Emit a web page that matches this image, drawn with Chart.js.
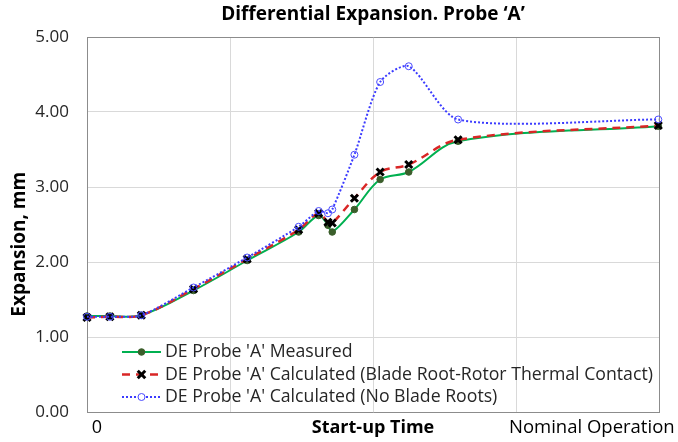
<!DOCTYPE html>
<html>
<head>
<meta charset="utf-8">
<script src="https://cdn.jsdelivr.net/npm/chart.js"></script>
<style>
  html, body { margin: 0; padding: 0; background: #fff; }
  #wrap { width: 678px; height: 442px; }
</style>
</head>
<body>
<div id="wrap"><canvas id="deChart"></canvas></div>
<script>
// ---- Data ----
const timePoints   = [0, 0.16, 0.38, 0.745, 1.12, 1.48, 1.62, 1.685, 1.715, 1.87, 2.05, 2.25, 2.595, 3.995];
const measured     = [1.28, 1.28, 1.29, 1.62, 2.02, 2.40, 2.62, 2.49, 2.40, 2.70, 3.10, 3.20, 3.61, 3.81];
const calcContact  = [1.26, 1.27, 1.29, 1.64, 2.04, 2.43, 2.65, 2.53, 2.52, 2.85, 3.20, 3.30, 3.63, 3.82];
const calcNoRoots  = [1.27, 1.27, 1.29, 1.66, 2.06, 2.47, 2.68, 2.65, 2.70, 3.43, 4.40, 4.61, 3.90, 3.90];

const seriesNames = [
    "DE Probe 'A' Measured",
    "DE Probe 'A' Calculated (Blade Root-Rotor Thermal Contact)",
    "DE Probe 'A' Calculated (No Blade Roots)"
];

// x-axis text positions and labels
const xTickValues = [0, 0.07, 1, 2, 3, 3.53, 4];
const xTickLabels = { 0.07: "0", 2: "Start-up Time", 3.53: "Nominal Operation" };

const FONT = "'Open Sans', 'Noto Sans', sans-serif";

const toXY = ys => ys.map((y, i) => ({ x: timePoints[i], y: y }));

// ---- Legend drawn inside the plot, Excel style (line + marker) ----
const insideLegend = {
    id: "insideLegend",
    afterDraw(chart) {
        const { ctx, chartArea } = chart;
        const x0 = chartArea.left + 35;
        const x1 = x0 + 39;
        const cx = (x0 + x1) / 2;
        let y = chartArea.bottom - 60;
        chart.data.datasets.forEach(ds => {
            ctx.save();
            ctx.strokeStyle = ds.borderColor;
            ctx.lineWidth = ds.borderWidth;
            ctx.setLineDash(ds.borderDash || []);
            ctx.beginPath();
            ctx.moveTo(x0, y);
            ctx.lineTo(x1, y);
            ctx.stroke();
            ctx.restore();

            // marker
            ctx.save();
            ctx.strokeStyle = ds.pointBorderColor;
            ctx.lineWidth = ds.pointBorderWidth;
            ctx.beginPath();
            if (ds.pointStyle === "circle") {
                ctx.arc(cx, y, ds.pointRadius, 0, Math.PI * 2);
                ctx.fillStyle = ds.pointBackgroundColor === "transparent" ? "#fff" : ds.pointBackgroundColor;
                ctx.fill();
                ctx.stroke();
            } else {
                const r = ds.pointRadius * 0.75;
                ctx.moveTo(cx - r, y - r); ctx.lineTo(cx + r, y + r);
                ctx.moveTo(cx + r, y - r); ctx.lineTo(cx - r, y + r);
                ctx.stroke();
            }
            ctx.restore();

            ctx.save();
            ctx.font = "17.7px " + FONT;
            ctx.fillStyle = "#262626";
            ctx.textBaseline = "middle";
            ctx.fillText(ds.label, x1 + 4, y);
            ctx.restore();
            y += 22.5;
        });
    }
};

new Chart(document.getElementById("deChart"), {
    type: "line",
    data: {
        datasets: [{
            label: seriesNames[0],
            data: toXY(measured),
            borderColor: "#00B050",
            borderWidth: 2,
            pointStyle: "circle",
            pointRadius: 3.3,
            pointBorderWidth: 1,
            pointBackgroundColor: "#3B5E2B",
            pointBorderColor: "#3B5E2B",
            tension: 0.35,
            clip: false,
            order: 2
        }, {
            label: seriesNames[1],
            data: toXY(calcContact),
            borderColor: "#D92626",
            borderWidth: 2.5,
            borderDash: [8, 6],
            pointStyle: "crossRot",
            pointRadius: 5,
            pointBorderWidth: 3,
            pointBackgroundColor: "#000",
            pointBorderColor: "#000",
            tension: 0.35,
            clip: false,
            order: 1
        }, {
            label: seriesNames[2],
            data: toXY(calcNoRoots),
            borderColor: "#3B3BFF",
            borderWidth: 2,
            borderDash: [2, 2],
            pointStyle: "circle",
            pointRadius: 3.5,
            pointBorderWidth: 1,
            pointBackgroundColor: "transparent",
            pointBorderColor: "#4A4AFF",
            tension: 0.25,
            clip: false,
            order: 0
        }]
    },
    options: {
        responsive: true,
        maintainAspectRatio: false,
        animation: false,
        layout: { padding: { left: 0, right: 19, top: 0, bottom: 0 } },
        plugins: {
            legend: { display: false },
            tooltip: { enabled: false },
            title: {
                display: true,
                fullSize: false,
                text: "Differential Expansion. Probe \u2018A\u2019",
                color: "#000",
                font: { family: FONT, size: 19, weight: "bold" },
                padding: { top: 3, bottom: 11.2 }
            }
        },
        scales: {
            x: {
                type: "linear",
                min: 0,
                max: 4,
                afterBuildTicks: scale => { scale.ticks = xTickValues.map(v => ({ value: v })); },
                afterFit: scale => { scale.height = 30; },
                grid: {
                    drawTicks: false,
                    color: c => {
                        const v = c.tick.value;
                        if (v === 0.07 || v === 3.53) return "rgba(0,0,0,0)";
                        if (v === 4) return "#8C8C8C";
                        return "#D9D9D9";
                    }
                },
                border: { color: "#8C8C8C" },
                ticks: {
                    autoSkip: false,
                    maxRotation: 0,
                    padding: 5,
                    color: "#000",
                    font: c => ({ family: FONT, size: c.tick && c.tick.value === 3.53 ? 18.5 : 18, weight: c.tick && c.tick.value === 2 ? "bold" : "normal" }),
                    callback: v => xTickLabels[v] || ""
                }
            },
            y: {
                min: 0,
                max: 5,
                afterFit: scale => { scale.width = 87; },
                grid: {
                    drawTicks: false,
                    color: c => c.tick.value === 5 ? "#8C8C8C" : "#D9D9D9"
                },
                border: { color: "#8C8C8C" },
                ticks: {
                    stepSize: 1,
                    padding: 18,
                    color: "#262626",
                    font: { family: FONT, size: 17 },
                    callback: v => v.toFixed(2)
                },
                title: {
                    display: true,
                    text: "Expansion, mm        ",
                    color: "#000",
                    font: { family: FONT, size: 19, weight: "bold" },
                    padding: { top: 8, bottom: 0 }
                }
            }
        }
    },
    plugins: [insideLegend]
});
</script>
</body>
</html>
